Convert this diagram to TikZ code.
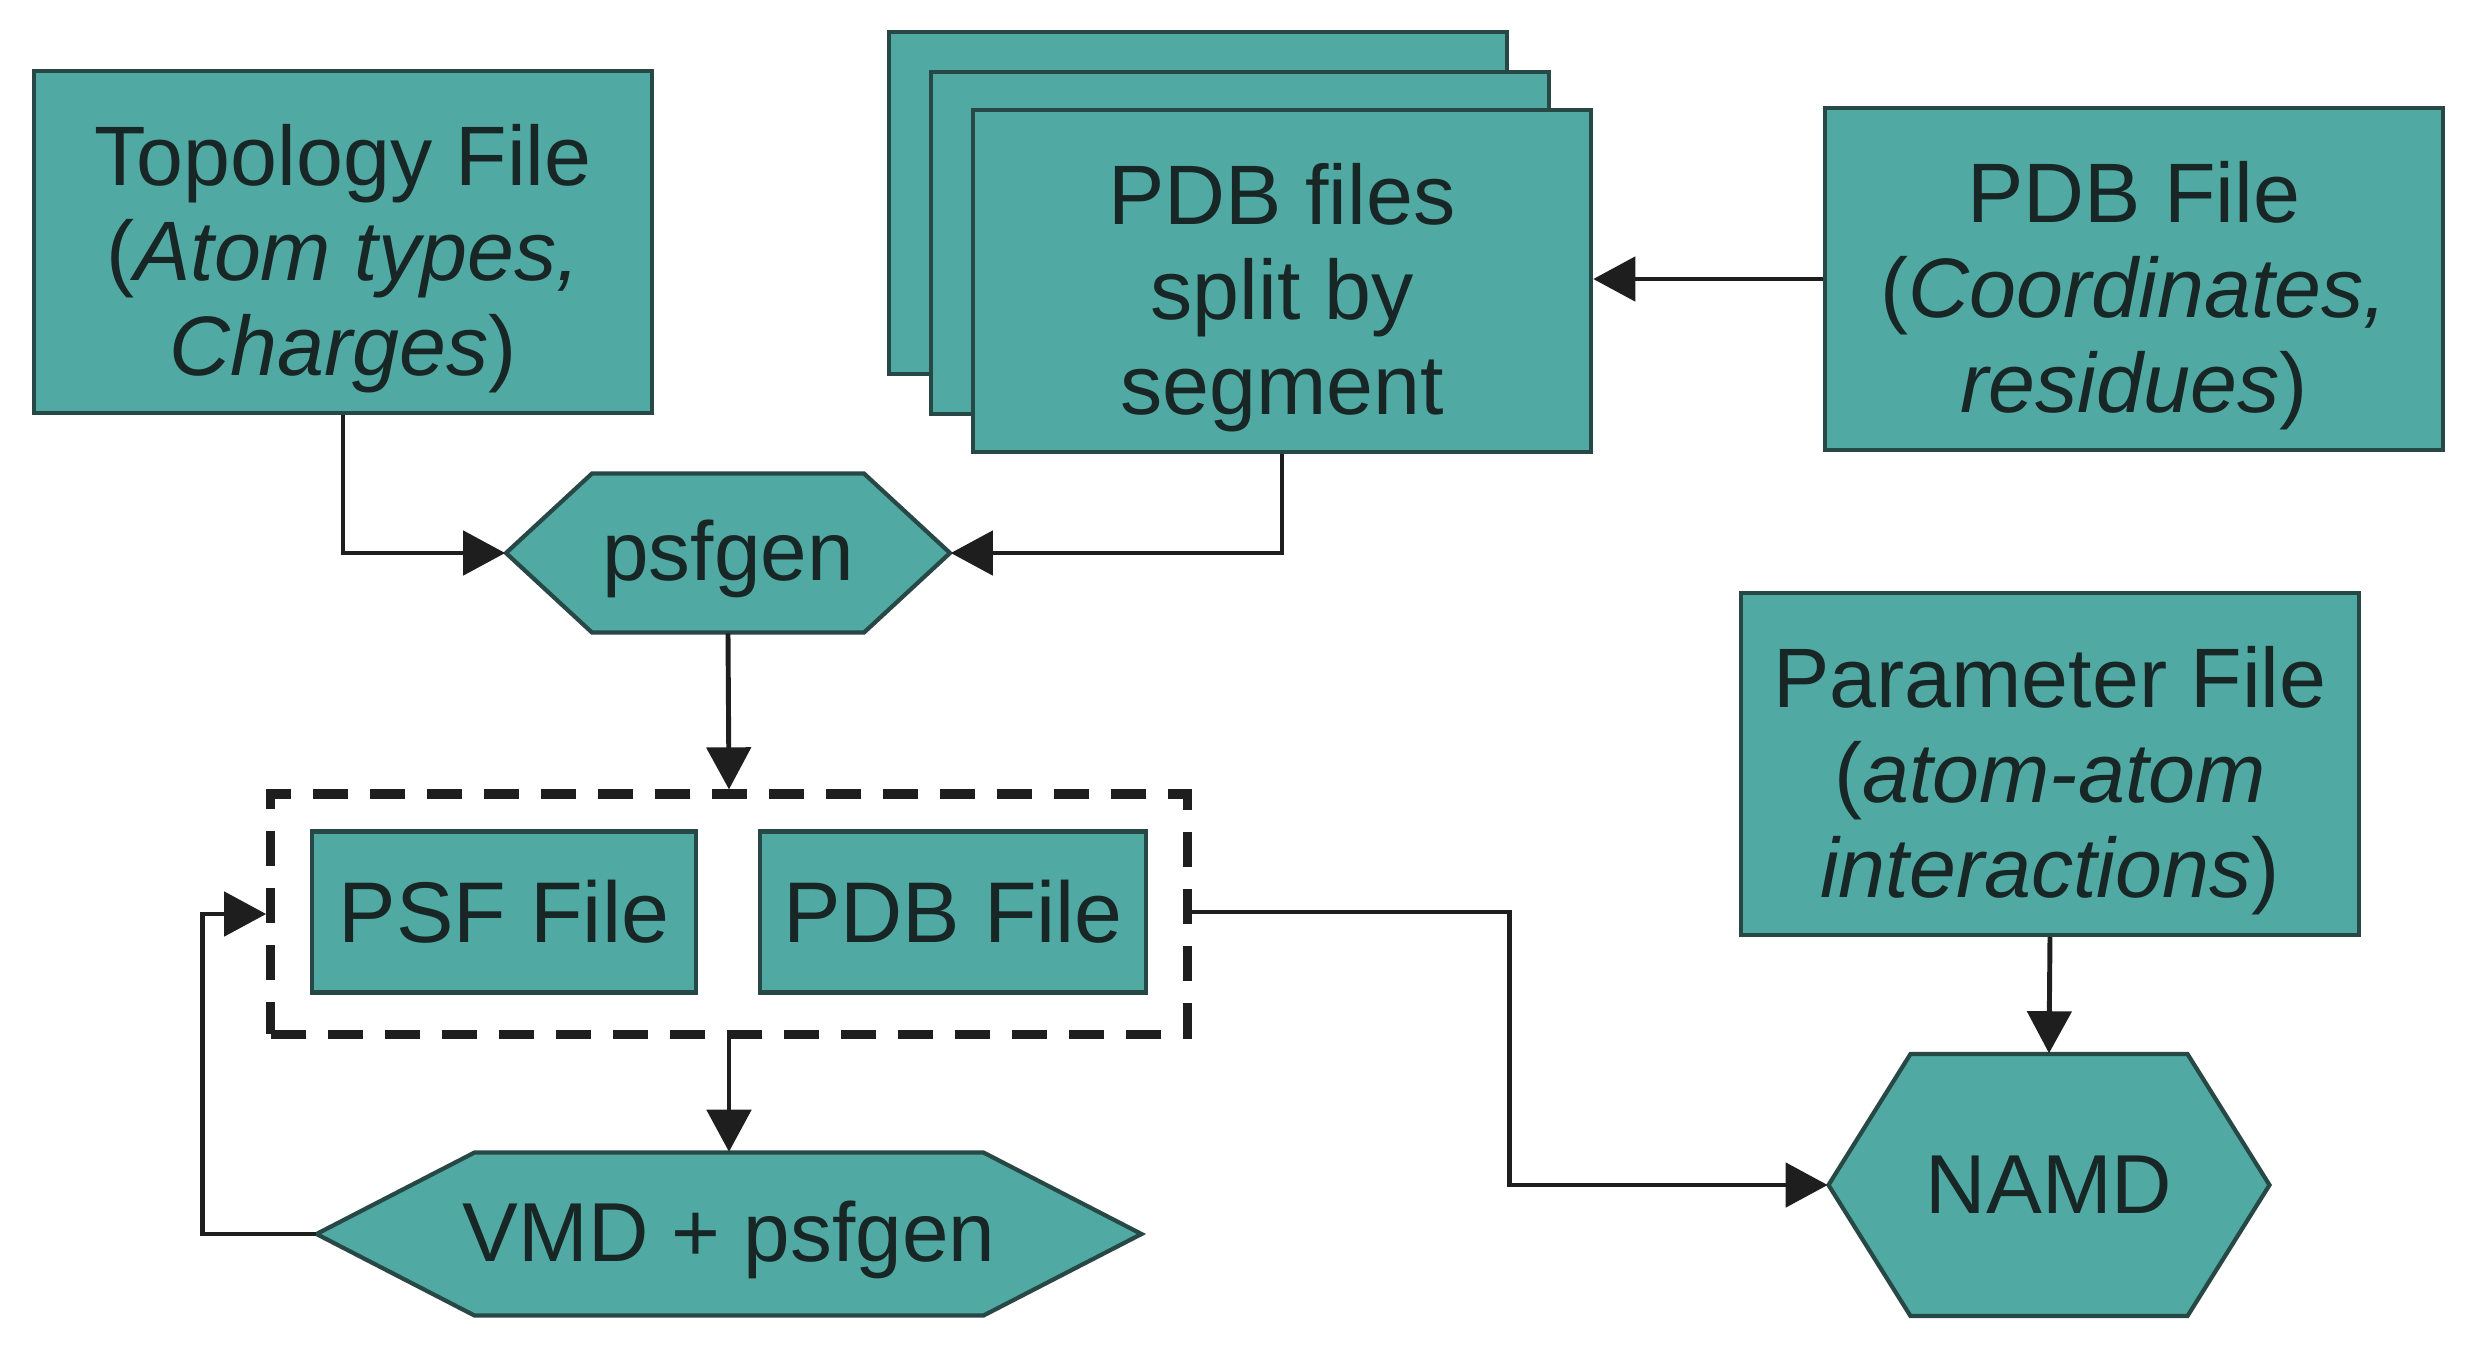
\documentclass[tikz,border=0pt]{standalone}
\usepackage{fontspec}
\setmainfont{Liberation Sans}
\usetikzlibrary{arrows.meta, positioning}

\definecolor{tealfill}{RGB}{80,170,163}
\definecolor{tealline}{RGB}{40,72,70}
\definecolor{inktext}{RGB}{24,38,37}
\definecolor{wirecol}{RGB}{30,30,30}

% hexagon outline: centre x, centre y, half width, half height, cut
\newcommand{\hexpanel}[5]{%
  \draw[hexline] (#1-#3,#2) -- (#1-#3+#5,#2-#4) -- (#1+#3-#5,#2-#4)
    -- (#1+#3,#2) -- (#1+#3-#5,#2+#4) -- (#1-#3+#5,#2+#4) -- cycle;}
% lowers the text of a three-line box a little
\newcommand{\lift}{\rule{0pt}{0.95cm}}

\begin{document}
\begin{tikzpicture}[x=0.01cm, y=-0.01cm,
  filebox/.style={draw=tealline, fill=tealfill, line width=1.2pt, text=inktext,
    align=center, minimum width=6.18cm, minimum height=3.42cm,
    font=\fontsize{24}{27}\selectfont},
  hexnode/.style={text=inktext, inner sep=0pt, font=\fontsize{23.8}{26.8}\selectfont},
  hexline/.style={draw=tealline, fill=tealfill, line width=1.2pt},
  arr/.style={draw=wirecol, line width=1.4pt, -{Triangle[length=0.42cm, width=0.44cm]}}]
\useasboundingbox (0,0) rectangle (2474,1362);

% Input files
\node[filebox] (topo) at (343,242) {\lift Topology File\\(\textit{Atom types,}\\\textit{Charges})};
\node[filebox] (seg3) at (1198,203) {};
\node[filebox] (seg2) at (1240,243) {};
\node[filebox] (seg1) at (1282,281) {\lift PDB files\\split by\\segment};
\node[filebox] (pdbin) at (2134,279) {\lift PDB File\\(\textit{Coordinates,}\\\textit{residues})};
\node[filebox] (param) at (2050,764) {\lift Parameter File\\(\textit{atom-atom}\\\textit{interactions})};

% psfgen step
\hexpanel{728}{553}{222}{79.5}{86}
\node[hexnode, text height=0.73cm, minimum width=4.44cm, minimum height=1.59cm] (psfgen) at (728,553) {psfgen};

% Output files
\node[draw=wirecol, line width=2.6pt, dash pattern=on 0.35cm off 0.22cm,
  minimum width=9.16cm, minimum height=2.40cm] (group) at (729,914) {};
\node[filebox, minimum width=3.84cm, minimum height=1.61cm,
  font=\fontsize{24.5}{28}\selectfont] (psf) at (504,912) {PSF File};
\node[filebox, minimum width=3.86cm, minimum height=1.61cm,
  font=\fontsize{24.5}{28}\selectfont] (pdbout) at (953,912) {PDB File};

% VMD and NAMD
\hexpanel{729}{1234}{412.5}{81.5}{158}
\node[hexnode, text height=0.73cm, minimum width=8.25cm, minimum height=1.63cm] (vmd) at (729,1234) {VMD + psfgen};
\hexpanel{2049}{1185}{220.5}{131}{82}
\node[hexnode, minimum width=4.41cm, minimum height=2.62cm] (namd) at (2049,1185) {NAMD};

% Connectors
\draw[arr] (topo.south) |- (psfgen.west);
\draw[arr] (seg1.south) |- (psfgen.east);
\draw[arr] (pdbin.west) -- (seg1.east |- pdbin.west);
\draw[arr] (psfgen.south) -- (group.north);
\draw[arr] (group.south) -- (vmd.north);
\draw[arr] (vmd.west) -- ++(-113,0) |- (group.west);
\draw[arr] (pdbout.east -| group.east) -- ++(318,0) |- (namd.west);
\draw[arr] (param.south) -- (namd.north);

\end{tikzpicture}
\end{document}
